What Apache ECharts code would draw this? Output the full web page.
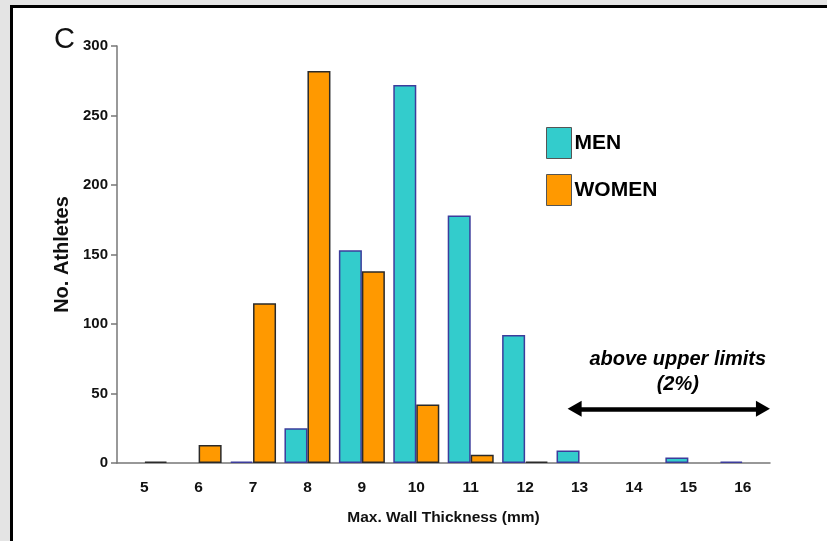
<!DOCTYPE html>
<html>
<head>
<meta charset="utf-8">
<script src="https://cdn.jsdelivr.net/npm/echarts@6/dist/echarts.min.js"></script>
<style>
  html, body { margin: 0; padding: 0; background: #e4e4e4; }
  #frame {
    position: absolute; left: 10px; top: 5px; width: 817px; height: 536px;
    background: #fff; border-left: 3px solid #000; border-top: 3px solid #000;
    box-sizing: border-box;
  }
  #chart { position: absolute; left: 0; top: 0; width: 827px; height: 541px; }
</style>
</head>
<body>
<div id="frame"></div>
<div id="chart"></div>
<script>
// Max. wall thickness distribution, men vs women athletes
const thickness = ['5', '6', '7', '8', '9', '10', '11', '12', '13', '14', '15', '16'];
const men   = [0, 0, 1, 25, 153, 272, 178, 92, 9, 0, 4, 1];
const women = [1, 13, 115, 282, 138, 42, 6, 1, 0, 0, 0, 0];
const yTicks = [0, 50, 100, 150, 200, 250, 300];

// arrow spanning the "above upper limits" range, in mm along a hidden value axis
// (endpoints sit at the arrowhead centres)
const limitArrow = [[12.91, 39], [16.37, 39]];

const FONT = '"Liberation Sans", Arial, Helvetica, sans-serif';

// empty bins get no outline, so nothing is drawn for them
const bars = vals => vals.map(v => (v === 0 ? { value: 0, itemStyle: { borderWidth: 0 } } : v));

const chart = echarts.init(document.getElementById('chart'), null, { renderer: 'canvas' });

chart.setOption({
  backgroundColor: 'transparent',
  animation: false,
  title: {
    text: 'C', left: 49, top: 20,
    textStyle: { fontFamily: FONT, fontSize: 29, fontWeight: 'normal', color: '#111' },
  },
  legend: {
    orient: 'vertical', left: 541, top: 122,
    itemWidth: 25, itemHeight: 31, itemGap: 15,
    icon: 'rect',
    textStyle: { fontFamily: FONT, fontSize: 21, fontWeight: 'bold', color: '#000', padding: [0, 0, 0, -2] },
    data: [
      { name: 'MEN', itemStyle: { borderColor: '#555', borderWidth: 1 } },
      { name: 'WOMEN', itemStyle: { borderColor: '#555', borderWidth: 1 } },
    ],
  },
  grid: { left: 117, right: 57, top: 46, bottom: 78 },
  xAxis: [
    {
      type: 'category', data: thickness,
      name: 'Max. Wall Thickness (mm)', nameLocation: 'middle', nameGap: 47,
      nameTextStyle: { fontFamily: FONT, fontSize: 15.5, fontWeight: 'bold', color: '#111' },
      axisLine: { lineStyle: { color: '#777', width: 1.5 } },
      axisTick: { length: 7, lineStyle: { color: '#777', width: 1.5 } },
      axisLabel: { margin: 17, fontFamily: FONT, fontSize: 15.5, fontWeight: 'bold', color: '#111' },
    },
    { type: 'value', min: 4.5, max: 16.5, show: false },
  ],
  yAxis: {
    type: 'value', min: 0, max: 300, interval: 50,
    name: 'No. Athletes', nameLocation: 'middle', nameGap: 44, nameRotate: 90,
    nameTextStyle: { fontFamily: FONT, fontSize: 20, fontWeight: 'bold', color: '#111' },
    axisLine: { show: true, lineStyle: { color: '#777', width: 1.5 } },
    axisTick: { show: true, length: 6, lineStyle: { color: '#777', width: 1.5 } },
    axisLabel: {
      margin: 9, fontFamily: FONT, fontSize: 15, fontWeight: 'bold', color: '#111',
      formatter: v => (yTicks.includes(v) ? String(v) : ''),
    },
    splitLine: { show: false },
  },
  series: [
    {
      name: 'MEN', type: 'bar', data: bars(men),
      barWidth: 23, barGap: '0%',
      itemStyle: { color: '#33CCCC', borderColor: '#3c3c9c', borderWidth: 1.5 },
    },
    {
      name: 'WOMEN', type: 'bar', data: bars(women),
      barWidth: 23,
      itemStyle: { color: '#FF9900', borderColor: '#2a2a2a', borderWidth: 1.5 },
    },
    {
      name: 'limits', type: 'line', xAxisIndex: 1, data: [],
      silent: true,
      markLine: {
        silent: true,
        symbol: ['triangle', 'triangle'], symbolSize: [16, 14],
        lineStyle: { color: '#000', width: 4.5, type: 'solid' },
        label: {
          show: true, position: 'middle', distance: 12,
          formatter: 'above upper limits\n(2%)',
          fontFamily: FONT, fontSize: 20, fontWeight: 'bold', fontStyle: 'italic',
          color: '#000', lineHeight: 25, offset: [9, 0],
        },
        data: [[{ coord: limitArrow[0] }, { coord: limitArrow[1] }]],
      },
    },
  ],
});
</script>
</body>
</html>
